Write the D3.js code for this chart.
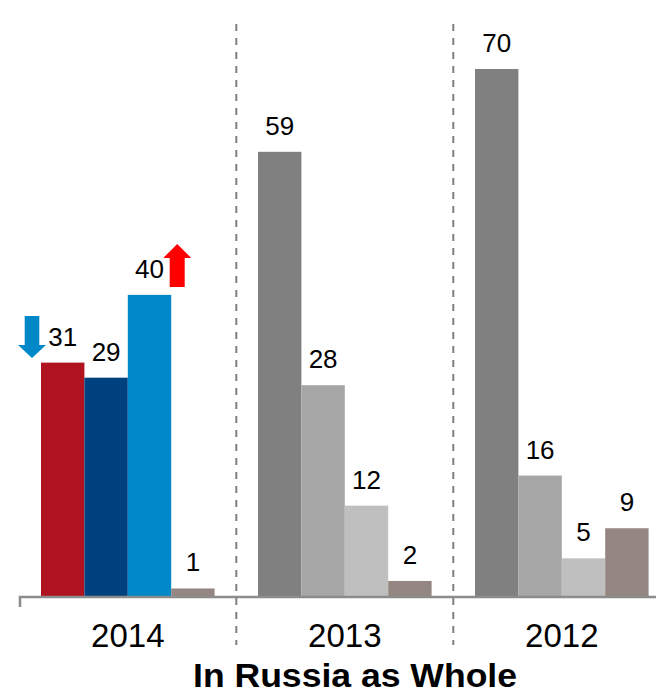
<!DOCTYPE html>
<html>
<head>
<meta charset="utf-8">
<script src="https://cdn.jsdelivr.net/npm/d3@7/dist/d3.min.js"></script>
<style>
  html, body { margin: 0; padding: 0; background: #fff; }
  svg { display: block; font-family: "Liberation Sans", Arial, sans-serif; }
</style>
</head>
<body>
<svg id="chart" width="656" height="695"></svg>
<script>
// Survey years, left to right
const years = ["2014", "2013", "2012"];
// Four answer groups per year (percent)
const values2014 = [31, 29, 40, 1];
const values2013 = [59, 28, 12, 2];
const values2012 = [70, 16, 5, 9];
const title = "In Russia as Whole";

// Fill colours for each year's four bars
const colors2014 = ["#B0121F", "#00427F", "#0088C9", "#948782"];
const colorsPast = ["#808080", "#A6A6A6", "#BFBFBF", "#948782"];

const rows = [
  { year: years[0], values: values2014, colors: colors2014 },
  { year: years[1], values: values2013, colors: colorsPast },
  { year: years[2], values: values2012, colors: colorsPast }
];

const svg = d3.select("#chart");
const baseY = 596;

const x0 = d3.scaleBand().domain(years).range([19.3, 670.3]).paddingInner(0).paddingOuter(0);
const x1 = d3.scaleBand().domain(d3.range(4)).range([0, x0.bandwidth()]).paddingOuter(0.5).paddingInner(0);
const y = d3.scaleLinear().domain([0, 70]).range([baseY, 69]);

// Dashed separators between years
svg.append("g").selectAll("line")
  .data(years.slice(1))
  .join("line")
  .attr("x1", d => x0(d)).attr("x2", d => x0(d))
  .attr("y1", 24).attr("y2", 645)
  .attr("stroke", "#7f7f7f").attr("stroke-width", 2)
  .attr("stroke-dasharray", "7,7");

// Bars
const groups = svg.append("g").selectAll("g")
  .data(rows)
  .join("g")
  .attr("transform", d => `translate(${x0(d.year)},0)`);

groups.selectAll("rect")
  .data(d => d.values.map((v, i) => ({ v, i, c: d.colors[i] })))
  .join("rect")
  .attr("x", d => x1(d.i))
  .attr("width", x1.bandwidth())
  .attr("y", d => y(d.v))
  .attr("height", d => baseY - y(d.v))
  .attr("fill", d => d.c);

// Value labels
groups.selectAll("text")
  .data(d => d.values.map((v, i) => ({ v, i })))
  .join("text")
  .attr("x", d => x1(d.i) + x1.bandwidth() / 2)
  .attr("y", d => y(d.v) - 17)
  .attr("text-anchor", "middle")
  .attr("font-size", 26)
  .attr("fill", "#000")
  .text(d => d.v);

// Category axis
const axis = svg.append("g")
  .attr("transform", `translate(0,${baseY + 1})`)
  .call(d3.axisBottom(x0).tickSize(0).tickPadding(26));
axis.select(".domain").remove();
axis.selectAll("text")
  .attr("font-size", 33)
  .attr("font-family", "Liberation Sans, Arial, sans-serif")
  .attr("fill", "#000")
  .attr("dy", null)
  .attr("y", 50);

svg.append("path")
  .attr("d", `M20,607V${baseY + 1}H656`)
  .attr("fill", "none")
  .attr("stroke", "#8c8c8c")
  .attr("stroke-width", 2.5);

// Trend arrows
const arrow = (cx, top, bottom, headLen, shaftW, headW, up, color) => {
  const s = shaftW / 2, h = headW / 2;
  let p;
  if (up) {
    p = [[cx, top], [cx + h, top + headLen], [cx + s, top + headLen], [cx + s, bottom],
         [cx - s, bottom], [cx - s, top + headLen], [cx - h, top + headLen]];
  } else {
    p = [[cx - s, top], [cx + s, top], [cx + s, bottom - headLen], [cx + h, bottom - headLen],
         [cx, bottom], [cx - h, bottom - headLen], [cx - s, bottom - headLen]];
  }
  svg.append("path").attr("d", d3.line()(p) + "Z").attr("fill", color);
};
const bar0 = x0("2014") + x1(0);
const bar2 = x0("2014") + x1(2);
arrow(bar0 - 9, 316, 358, 13, 14.6, 28, false, "#0088C9");
arrow(bar2 + x1.bandwidth() + 6, 244, 287, 14, 15, 28, true, "#FF0000");

// Title
svg.append("text")
  .attr("x", 355).attr("y", 687)
  .attr("text-anchor", "middle")
  .attr("font-size", 34)
  .attr("font-weight", "bold")
  .attr("fill", "#000")
  .attr("textLength", 324)
  .attr("lengthAdjust", "spacingAndGlyphs")
  .text(title);
</script>
</body>
</html>
